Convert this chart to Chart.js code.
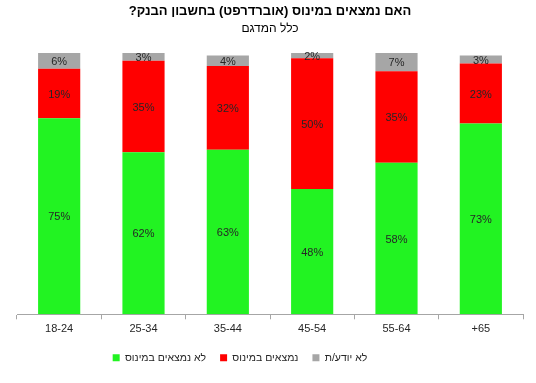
<!DOCTYPE html>
<html><head><meta charset="utf-8">
<script src="https://cdn.jsdelivr.net/npm/chart.js@4/dist/chart.umd.min.js"></script>
<style>html,body{margin:0;padding:0;background:#fff}#wrap{width:536px;height:383px}</style>
</head><body><div id="wrap"><canvas id="c" width="536" height="383"></canvas></div>
<script>
const categories = ['18-24','25-34','35-44','45-54','55-64','+65'];
const notInMinus = [75,62,63,48,58,73];
const inMinus = [19,35,32,50,35,23];
const dontKnow = [6,3,4,2,7,3];
const seriesNames = ['לא נמצאים במינוס','נמצאים במינוס','לא יודע/ת'];
const titleText = 'האם נמצאים במינוס (אוברדרפט) בחשבון הבנק?';
const subtitleText = 'כלל המדגם';

const labelPlugin = {
  id: 'segLabels',
  afterLayout(chart) {
    // the reference legend sits a little left of centre
    if (chart.legend) { chart.legend.left -= 30; chart.legend.right -= 30; }
  },
  afterDatasetsDraw(chart) {
    const ctx = chart.ctx;
    ctx.save();
    ctx.font = '11px "Liberation Sans", Arial, sans-serif';
    ctx.fillStyle = '#262626';
    ctx.textAlign = 'center';
    ctx.textBaseline = 'middle';
    chart.data.datasets.forEach((ds, i) => {
      const meta = chart.getDatasetMeta(i);
      meta.data.forEach((bar, j) => {
        const y = (bar.y + bar.base) / 2;
        ctx.fillText(ds.data[j] + '%', bar.x, y + 1);
      });
    });
    ctx.restore();
  }
};

new Chart(document.getElementById('c'), {
  type: 'bar',
  data: {
    labels: categories,
    datasets: [
      {label: seriesNames[0], data: notInMinus, backgroundColor: '#22F322'},
      {label: seriesNames[1], data: inMinus, backgroundColor: '#FF0000'},
      {label: seriesNames[2], data: dontKnow, backgroundColor: '#A6A6A6'}
    ]
  },
  options: {
    responsive: false,
    animation: false,
    devicePixelRatio: 1,
    layout: {padding: {left: 17, right: 13, top: 0, bottom: 10}},
    datasets: {bar: {barPercentage: 0.5, categoryPercentage: 1}},
    scales: {
      x: {
        stacked: true,
        grid: {offset: true, drawOnChartArea: false, tickLength: 5, color: '#A6A6A6'},
        border: {color: '#A6A6A6'},
        ticks: {color: '#262626', font: {family: '"Liberation Sans", Arial, sans-serif', size: 11}, padding: 3}
      },
      y: {stacked: true, min: 0, max: 100, display: false}
    },
    plugins: {
      title: {display: true, text: titleText + '\u200F', color: '#000', font: {family: '"Liberation Sans", Arial, sans-serif', size: 13, weight: 'bold'}, padding: {top: 4, bottom: 2}},
      subtitle: {display: true, text: subtitleText, color: '#000', font: {family: '"Liberation Sans", Arial, sans-serif', size: 12}, padding: {top: 0, bottom: 17}},
      legend: {
        position: 'bottom',
        labels: {boxWidth: 7, boxHeight: 7, padding: 14, color: '#262626', font: {family: '"Liberation Sans", Arial, sans-serif', size: 10.5}}
      },
      tooltip: {enabled: false}
    }
  },
  plugins: [labelPlugin]
});
</script></body></html>
